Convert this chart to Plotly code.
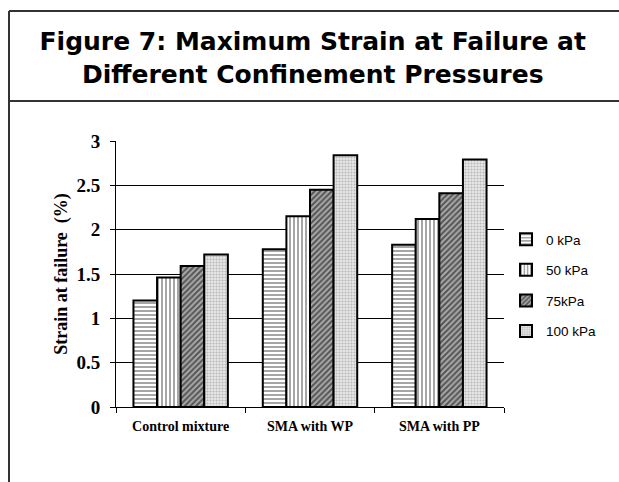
import plotly.graph_objects as go

categories = ["Control mixture", "SMA with WP", "SMA with PP"]
series_names = ["0 kPa", "50 kPa", "75kPa", "100 kPa"]
v0 = [1.20, 1.78, 1.83]
v50 = [1.46, 2.15, 2.12]
v75 = [1.59, 2.45, 2.41]
v100 = [1.72, 2.84, 2.79]
y_ticks = [0, 0.5, 1, 1.5, 2, 2.5, 3]
y_tick_labels = ["0", "0.5", "1", "1.5", "2", "2.5", "3"]
grid_vals = [0.5, 1, 1.5, 2, 2.5]

W, H = 619, 482
L, R, T, B = 116, 504, 141, 407

def px(x):
    return (x - L) / (R - L)

def py(y):
    return (B - y) / (B - T)

patterns = [
    dict(shape="-", size=4, solidity=0.35, fgcolor="black", bgcolor="white"),
    dict(shape="|", size=4, solidity=0.35, fgcolor="black", bgcolor="white"),
    dict(shape="/", size=4, solidity=0.5, fgcolor="black", bgcolor="#aaaaaa"),
    dict(shape=".", size=3, solidity=0.4, fgcolor="#888888", bgcolor="#e8e8e8"),
]

fig = go.Figure()
for name, vals, pat in zip(series_names, [v0, v50, v75, v100], patterns):
    fig.add_trace(go.Bar(
        x=categories, y=vals, name=name, legendgroup=name,
        marker=dict(color="white", line=dict(color="black", width=2), pattern=pat),
    ))

fig.add_trace(go.Scatter(x=categories, y=[None]*3, yaxis="y2", showlegend=False, hoverinfo="skip"))

serif = "Liberation Serif, Times New Roman, serif"
fig.update_layout(
    width=W, height=H,
    margin=dict(l=L, r=W - R, t=T, b=H - B, pad=0, autoexpand=False),
    paper_bgcolor="white", plot_bgcolor="white",
    barmode="group", bargap=0.27, bargroupgap=0,
    title=dict(
        text="Figure 7: Maximum Strain at Failure at<br>Different Confinement Pressures",
        x=0.507, xref="paper", xanchor="center",
        y=1 - 50 / H, yref="container", yanchor="middle",
        font=dict(family="DejaVu Sans", size=25, color="black", weight="bold"),
    ),
    xaxis=dict(
        showline=True, linecolor="black", linewidth=1,
        ticks="outside", tickson="boundaries", ticklen=5, tickcolor="black",
        ticklabelstandoff=6,
        tickfont=dict(family=serif, size=14, color="black", weight="bold"),
        showgrid=False,
    ),
    yaxis=dict(
        range=[0, 3], tickvals=y_ticks, ticktext=y_tick_labels,
        showline=True, linecolor="black", linewidth=1,
        ticks="outside", ticklen=5, tickcolor="black",
        ticklabelstandoff=6,
        tickfont=dict(family=serif, size=19, color="black", weight="bold"),
        showgrid=False, zeroline=False,
        title=dict(text="Strain at failure  (%)", standoff=4,
                   font=dict(family=serif, size=18, color="black", weight="bold")),
    ),
    yaxis2=dict(
        range=[0, 3], overlaying="y", tickvals=grid_vals, showticklabels=False,
        showgrid=True, gridcolor="black", gridwidth=1, zeroline=False,
        showline=False, ticks="",
    ),
    legend=dict(
        x=px(506), y=py(224), xanchor="left", yanchor="top",
        font=dict(family="Liberation Sans, Arial, sans-serif", size=13.5, color="black"),
        tracegroupgap=10, itemwidth=30, bgcolor="rgba(0,0,0,0)",
    ),
    showlegend=True,
)

line = dict(color="#333333", width=2)
fig.add_shape(type="line", xref="paper", yref="paper", x0=px(9), x1=px(W + 5), y0=py(11), y1=py(11), line=line)
fig.add_shape(type="line", xref="paper", yref="paper", x0=px(9), x1=px(W + 5), y0=py(101), y1=py(101), line=line)
fig.add_shape(type="line", xref="paper", yref="paper", x0=px(9), x1=px(9), y0=py(11), y1=py(H + 5), line=line)

fig.write_html("out.html")
